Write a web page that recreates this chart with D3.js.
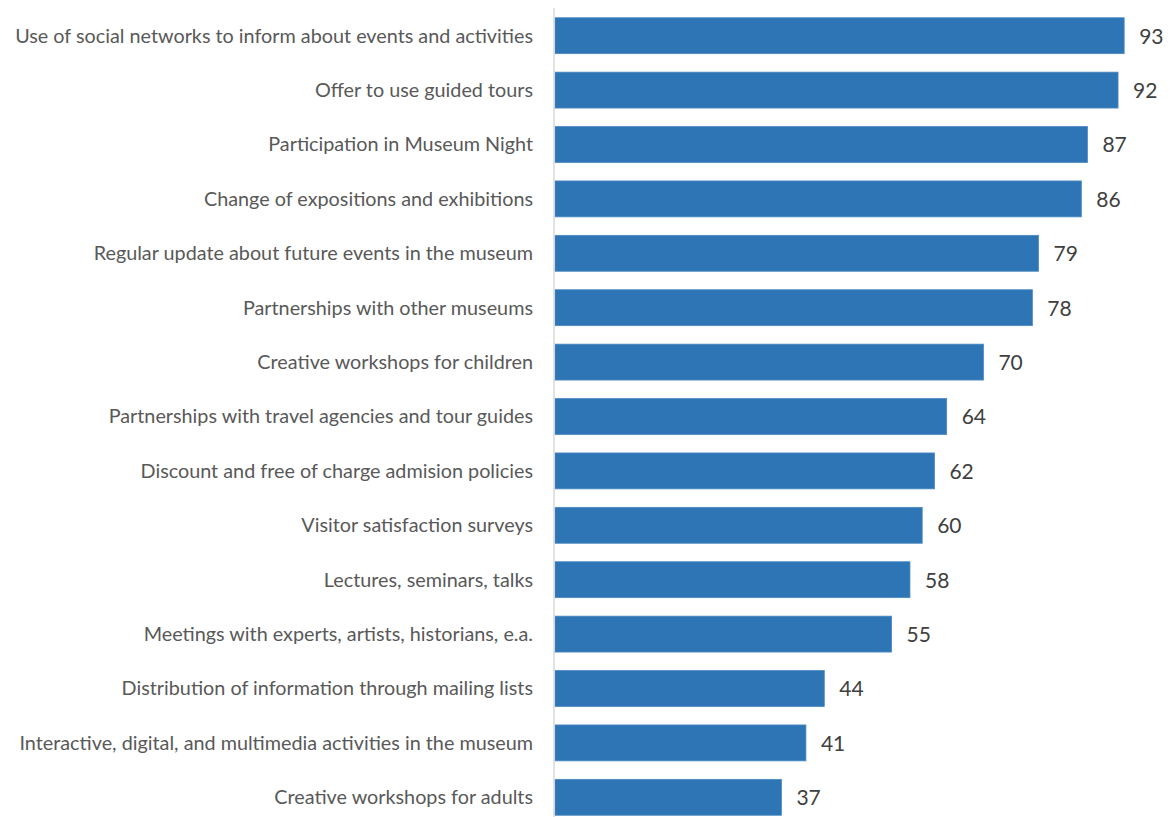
<!DOCTYPE html>
<html><head><meta charset="utf-8">
<script src="https://cdn.jsdelivr.net/npm/d3@7"></script>
<style>body{margin:0;background:#fff;} svg{display:block;}</style>
</head><body><svg id="c" width="1175" height="817"></svg>
<script>
const categories = [
  "Use of social networks to inform about events and activities",
  "Offer to use guided tours",
  "Participation in Museum Night",
  "Change of expositions and exhibitions",
  "Regular update about future events in the museum",
  "Partnerships with other museums",
  "Creative workshops for children",
  "Partnerships with travel agencies and tour guides",
  "Discount and free of charge admision policies",
  "Visitor satisfaction surveys",
  "Lectures, seminars, talks",
  "Meetings with experts, artists, historians, e.a.",
  "Distribution of information through mailing lists",
  "Interactive, digital, and multimedia activities in the museum",
  "Creative workshops for adults"
];
const values = [93, 92, 87, 86, 79, 78, 70, 64, 62, 60, 58, 55, 44, 41, 37];

const svg = d3.select("#c");
const x = d3.scaleLinear().domain([0, 100]).range([555, 1167]);
const y = d3.scaleBand().domain(categories).range([8.5, 824.5]).paddingInner(0.34).paddingOuter(0.17);

svg.append("g").selectAll("rect").data(values).join("rect")
  .attr("x", x(0))
  .attr("y", (d, i) => y(categories[i]))
  .attr("width", d => x(d) - x(0))
  .attr("height", y.bandwidth())
  .attr("fill", "#2e75b6")
  .attr("stroke", "#4a88c2").attr("stroke-width", 0.8);

svg.append("line").attr("x1", 554).attr("x2", 554).attr("y1", 8).attr("y2", 817)
  .attr("stroke", "#d9d9d9").attr("stroke-width", 1.5);

svg.append("g").selectAll("text").data(categories).join("text")
  .attr("x", 533)
  .attr("y", d => y(d) + y.bandwidth() / 2)
  .attr("dy", "0.35em")
  .attr("text-anchor", "end")
  .attr("font-family", "Lato, 'Open Sans', sans-serif")
  .attr("font-size", 19.8)
  .attr("fill", "#595959")
  .text(d => d);

svg.append("g").selectAll("text").data(values).join("text")
  .attr("x", d => x(d) + 15)
  .attr("y", (d, i) => y(categories[i]) + y.bandwidth() / 2)
  .attr("dy", "0.38em")
  .attr("font-family", "Lato, 'Open Sans', sans-serif")
  .attr("font-size", 21)
  .attr("fill", "#404040")
  .text(d => d);
</script></body></html>
